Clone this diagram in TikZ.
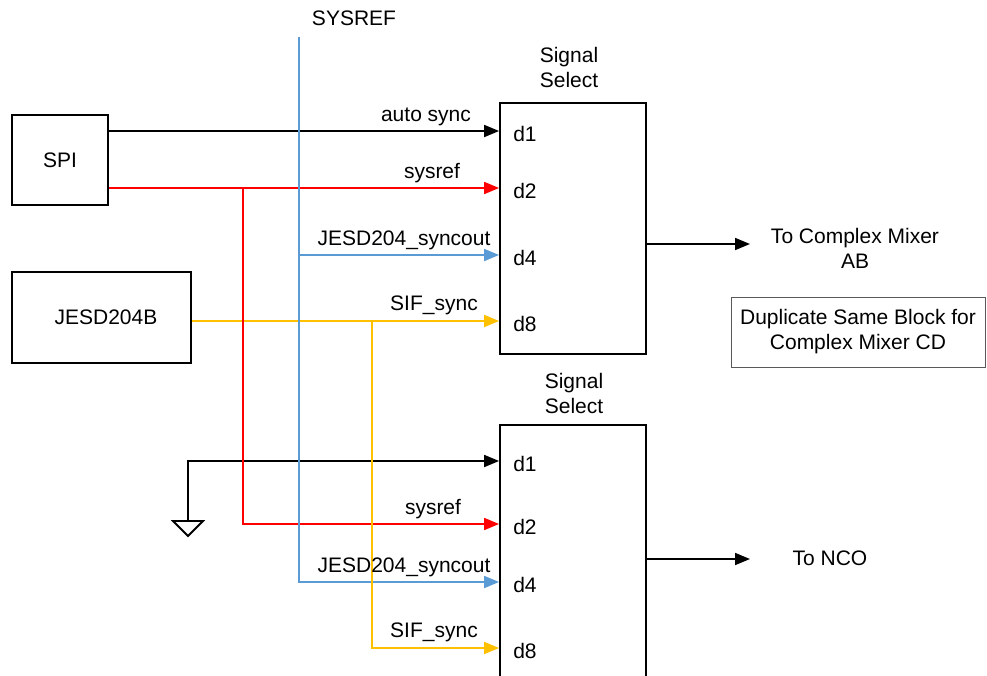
\documentclass[tikz,border=0pt]{standalone}
\usepackage{fontspec}
\setmainfont{Liberation Sans}
\usetikzlibrary{arrows.meta,positioning}
\definecolor{sigred}{RGB}{255,0,0}
\definecolor{sigblue}{RGB}{91,155,213}
\definecolor{sigyellow}{RGB}{255,192,0}

\begin{document}
\begin{tikzpicture}[x=1pt, y=-1pt,
      font=\fontsize{21}{25}\selectfont,
      box/.style={draw=black, line width=1.8pt, inner sep=0pt, align=center},
      note/.style={draw=black!65, line width=0.9pt, inner sep=0pt, align=center, minimum width=254pt, minimum height=70pt},
      arr/.style={-{Triangle[length=15pt,width=12pt]}, line width=1.8pt},
      wire/.style={line width=1.8pt, line join=miter},
      port/.style={anchor=west, inner sep=0pt, xshift=14pt, yshift=-3pt},
      lbl/.style={anchor=base, inner sep=0pt}
    ]
      \useasboundingbox (0,0) rectangle (987,675);
      \clip (0,0) rectangle (987,675);

      % blocks
      \node[box, minimum width=96pt, minimum height=90pt] (spi) at (60,160) {SPI};
      \node[box, minimum width=179pt, minimum height=91pt, text width=179pt, xshift=0pt] (jesd) at (101.5,317.5) {\hspace*{9pt}JESD204B};
      \node[box, minimum width=146pt, minimum height=251pt] (selA) at (573,228.5) {};
      \node[box, minimum width=146pt, minimum height=300pt] (selB) at (573,575) {};
      \node[align=center] (titleA) at (569,67.5) {Signal\\Select};
      \node[align=center] (titleB) at (574,393.5) {Signal\\Select};
      \node (sysref) at (354,18) {SYSREF};
      \node[note] (dup) at (858,332) {Duplicate Same Block for\\Complex Mixer CD};

      % select inputs
      \foreach \n/\y in {1/131, 2/188, 4/255, 8/321} {
        \coordinate (inA\n) at (selA.west |- 0,\y);
        \node[port] at (inA\n) {d\n};
      }
      \foreach \n/\y in {1/461, 2/524, 4/582, 8/648} {
        \coordinate (inB\n) at (selB.west |- 0,\y);
        \node[port] at (inB\n) {d\n};
      }

      \coordinate (btop) at (299,37);
      \coordinate (rtap) at (243,0 |- inA2);
      \coordinate (ytap) at (372,0 |- inA8);
      \coordinate (gnd) at (188,521);

      % upper select
      \draw[arr] (spi.east |- inA1) -- (inA1);
      \draw[arr, sigred] (spi.east |- inA2) -- (inA2);
      \draw[arr, sigblue] (btop |- inA4) -- (inA4);
      \draw[arr, sigyellow] (jesd.east |- inA8) -- (inA8);

      % lower select
      \draw[arr] (gnd) |- (inB1);
      \draw[arr, sigred] (rtap) |- (inB2);
      \draw[arr, sigblue] (btop) |- (inB4);
      \draw[arr, sigyellow] (ytap) |- (inB8);
      \draw[wire] (gnd) ++(-15,0) -- ++(30,0) -- ++(-15,15) -- cycle;

      \node[lbl] (lautoA) at (426,121) {auto sync};
      \node[lbl] (lsysA) at (432,178) {sysref};
      \node[lbl] (ljesdA) at (404,245) {JESD204\_syncout};
      \node[lbl] (lsifA) at (434,310) {SIF\_sync};
      \node[lbl] (lsysB) at (433,514) {sysref};
      \node[lbl] (ljesdB) at (404,572) {JESD204\_syncout};
      \node[lbl] (lsifB) at (434,637) {SIF\_sync};

      % outputs
      \coordinate (outA) at (750,244);
      \coordinate (outB) at (750,559);
      \draw[arr] (selA.east |- outA) -- (outA);
      \draw[arr] (selB.east |- outB) -- (outB);
      \node[align=center] (mixAB) at (855,248) {To Complex Mixer\\AB};
      \node (nco) at (830,558) {To NCO};
    \end{tikzpicture}
\end{document}
